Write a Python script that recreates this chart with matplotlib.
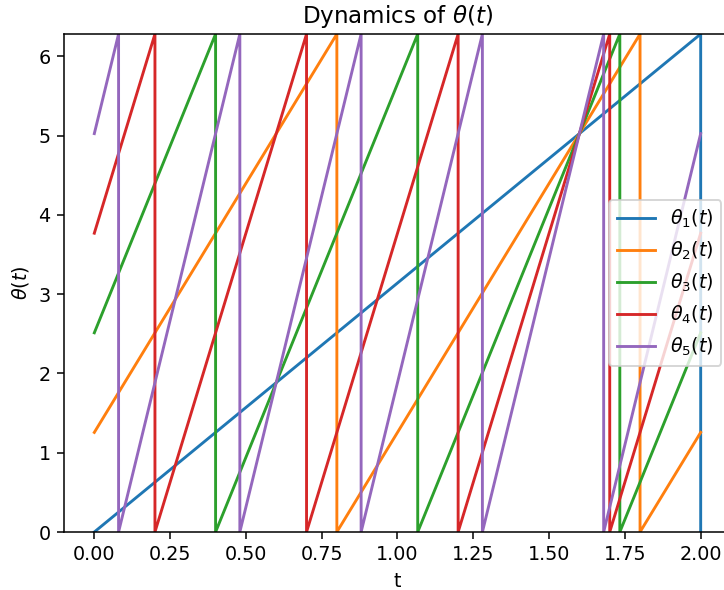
import matplotlib
matplotlib.use('Agg')
import matplotlib.pyplot as plt

# phase limits
TOP = 6.2832

# polyline vertices of each phase curve (t, theta)
t1 = [0.0, 2.0, 2.0]
y1 = [0.0, TOP, 0.0]

t2 = [0.0, 0.8, 0.8, 1.8, 1.8, 2.0]
y2 = [1.2566, TOP, 0.0, TOP, 0.0, 1.2566]

t3 = [0.0, 0.4, 0.4, 1.0667, 1.0667, 1.7333, 1.7333, 2.0]
y3 = [2.5133, TOP, 0.0, TOP, 0.0, TOP, 0.0, 2.5133]

t4 = [0.0, 0.2, 0.2, 0.7, 0.7, 1.2, 1.2, 1.7, 1.7, 2.0]
y4 = [3.7699, TOP, 0.0, TOP, 0.0, TOP, 0.0, TOP, 0.0, 3.7699]

t5 = [0.0, 0.08, 0.08, 0.48, 0.48, 0.88, 0.88, 1.28, 1.28, 1.68, 1.68, 2.0]
y5 = [5.0265, TOP, 0.0, TOP, 0.0, TOP, 0.0, TOP, 0.0, TOP, 0.0, 5.0265]

labels = [r'$\theta_1(t)$', r'$\theta_2(t)$', r'$\theta_3(t)$',
          r'$\theta_4(t)$', r'$\theta_5(t)$']

DPI = 138
fig = plt.figure(figsize=(724 / DPI, 590 / DPI), dpi=DPI)
# axes run slightly past the right edge, as in the reference
ax = fig.add_axes([64 / 724, 58 / 590, 667 / 724, 498 / 590])

for tt, yy, lab in zip([t1, t2, t3, t4, t5], [y1, y2, y3, y4, y5], labels):
    ax.plot(tt, yy, label=lab)

ax.set_ylim(0, TOP)
ax.set_title(r'Dynamics of $\theta(t)$')
ax.set_xlabel('t')
ax.set_ylabel(r'$\theta(t)$')
ax.legend(loc='center right')

fig.savefig('out.png', dpi=DPI)
